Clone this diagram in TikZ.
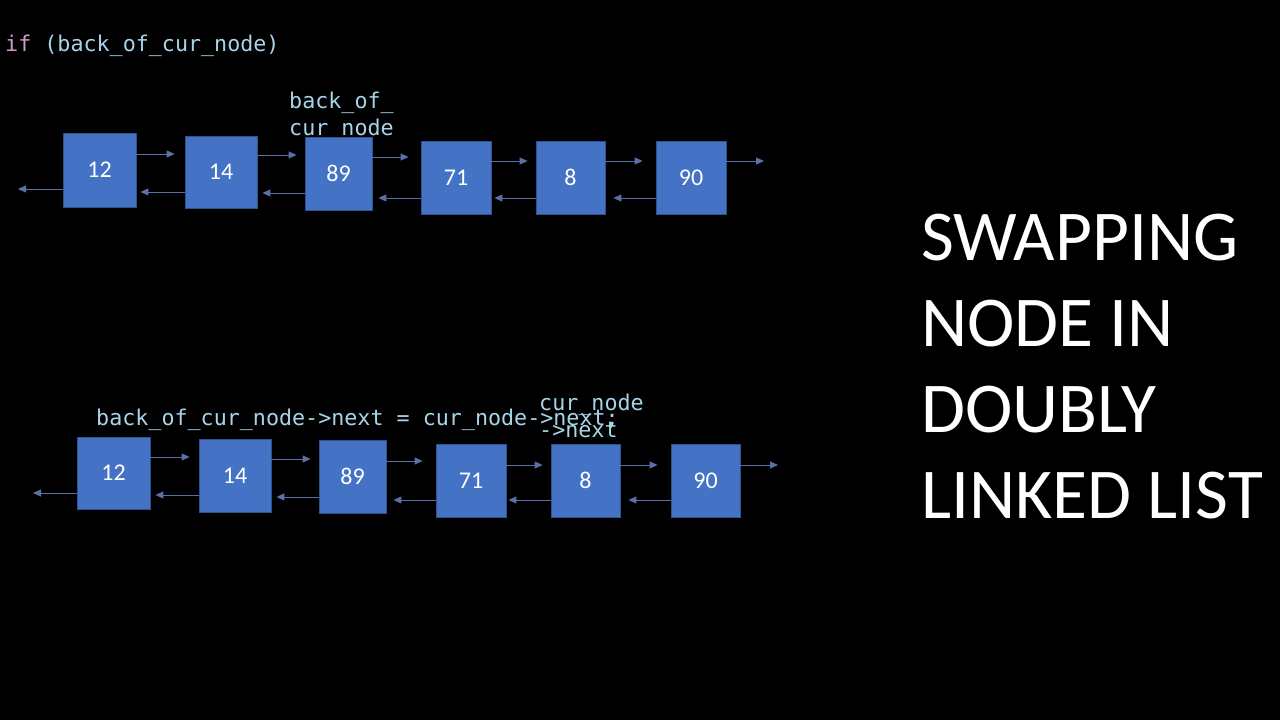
\documentclass[tikz,border=0pt]{standalone}
\usepackage{fontspec}
\usetikzlibrary{arrows.meta}
\newfontfamily\codefont{DejaVu Sans Mono}
\newfontfamily\titlefont{Carlito}
\definecolor{boxfill}{HTML}{4472C4}
\definecolor{boxline}{HTML}{2F528F}
\definecolor{arrowcol}{HTML}{5B6FA8}
\definecolor{codeblue}{HTML}{A8D4E8}
\definecolor{ifpink}{HTML}{CC9CC8}
\tikzset{
  lbox/.style={draw=boxline, line width=0.8pt, fill=boxfill, text=white,
    font=\titlefont\fontsize{24}{26}\selectfont, inner sep=0pt},
  larrow/.style={draw=arrowcol, line width=0.9pt, -{Triangle[length=8pt,width=7pt]}},
  code/.style={text=codeblue, font=\codefont\fontsize{21.7}{27.5}\selectfont, inner sep=0pt},
  title/.style={text=white, font=\titlefont\fontsize{71.5}{86}\selectfont, inner sep=0pt, align=left}
}
\begin{document}
\begin{tikzpicture}[x=1pt,y=-1pt]
\useasboundingbox[fill=black] (0,0) rectangle (1280,720);

% code lines
\node[code, anchor=base west] (cond) at (5,51) {{\color{ifpink}if} (back\_of\_cur\_node)};
\node[code, anchor=north west, align=left] (lblA) at (289,91.5) {back\_of\_\\cur\_node};
\node[code, anchor=base west] (stmt) at (96,425) {back\_of\_cur\_node->next = cur\_node->next;};
\node[code, anchor=north west, align=left] (lblB) at (539,393.5) {cur\_node\\->next};

% title
\node[title, anchor=north west] (ttl) at (921,214) {SWAPPING\\NODE IN\\DOUBLY\\LINKED LIST};

% top list
\node[lbox, minimum width=73pt, minimum height=74pt] (A1) at (99.5,170) {12};
\node[lbox, minimum width=72pt, minimum height=72pt] (A2) at (221,172) {14};
\node[lbox, minimum width=67pt, minimum height=73pt] (A3) at (338.5,173.5) {89};
\node[lbox, minimum width=70pt, minimum height=73pt] (A4) at (456,177.5) {71};
\node[lbox, minimum width=69pt, minimum height=73pt] (A5) at (570.5,177.5) {8};
\node[lbox, minimum width=70pt, minimum height=73pt] (A6) at (691,177.5) {90};
\coordinate (Aleft) at (18,189);
\coordinate (Aright) at (764,161);

\draw[larrow, shorten >=10pt] (A1.east |- 0,154) -- (A2.west |- 0,154);
\draw[larrow, shorten >=8pt] (A2.east |- 0,155) -- (A3.west |- 0,155);
\draw[larrow, shorten >=12pt] (A3.east |- 0,157) -- (A4.west |- 0,157);
\draw[larrow, shorten >=8pt] (A4.east |- 0,161) -- (A5.west |- 0,161);
\draw[larrow, shorten >=13pt] (A5.east |- 0,161) -- (A6.west |- 0,161);
\draw[larrow] (A6.east |- Aright) -- (Aright);

\draw[larrow] (A1.west |- Aleft) -- (Aleft);
\draw[larrow, shorten >=4pt] (A2.west |- 0,192) -- (A1.east |- 0,192);
\draw[larrow, shorten >=5pt] (A3.west |- 0,193) -- (A2.east |- 0,193);
\draw[larrow, shorten >=6pt] (A4.west |- 0,198) -- (A3.east |- 0,198);
\draw[larrow, shorten >=3pt] (A5.west |- 0,198) -- (A4.east |- 0,198);
\draw[larrow, shorten >=8pt] (A6.west |- 0,198) -- (A5.east |- 0,198);

% bottom list
\node[lbox, minimum width=73pt, minimum height=72pt] (B1) at (113.5,473) {12};
\node[lbox, minimum width=72pt, minimum height=73pt] (B2) at (235,475.5) {14};
\node[lbox, minimum width=67pt, minimum height=73pt] (B3) at (352.5,476.5) {89};
\node[lbox, minimum width=70pt, minimum height=73pt] (B4) at (471,480.5) {71};
\node[lbox, minimum width=69pt, minimum height=73pt] (B5) at (585.5,480.5) {8};
\node[lbox, minimum width=69pt, minimum height=73pt] (B6) at (705.5,480.5) {90};
\coordinate (Bleft) at (33,493);
\coordinate (Bright) at (778,465);

\draw[larrow, shorten >=9pt] (B1.east |- 0,457) -- (B2.west |- 0,457);
\draw[larrow, shorten >=8pt] (B2.east |- 0,459) -- (B3.west |- 0,459);
\draw[larrow, shorten >=13pt] (B3.east |- 0,461) -- (B4.west |- 0,461);
\draw[larrow, shorten >=8pt] (B4.east |- 0,465) -- (B5.west |- 0,465);
\draw[larrow, shorten >=13pt] (B5.east |- 0,465) -- (B6.west |- 0,465);
\draw[larrow] (B6.east |- Bright) -- (Bright);

\draw[larrow] (B1.west |- Bleft) -- (Bleft);
\draw[larrow, shorten >=5pt] (B2.west |- 0,495) -- (B1.east |- 0,495);
\draw[larrow, shorten >=5pt] (B3.west |- 0,497) -- (B2.east |- 0,497);
\draw[larrow, shorten >=7pt] (B4.west |- 0,500) -- (B3.east |- 0,500);
\draw[larrow, shorten >=2pt] (B5.west |- 0,500) -- (B4.east |- 0,500);
\draw[larrow, shorten >=8pt] (B6.west |- 0,500) -- (B5.east |- 0,500);
\end{tikzpicture}
\end{document}
